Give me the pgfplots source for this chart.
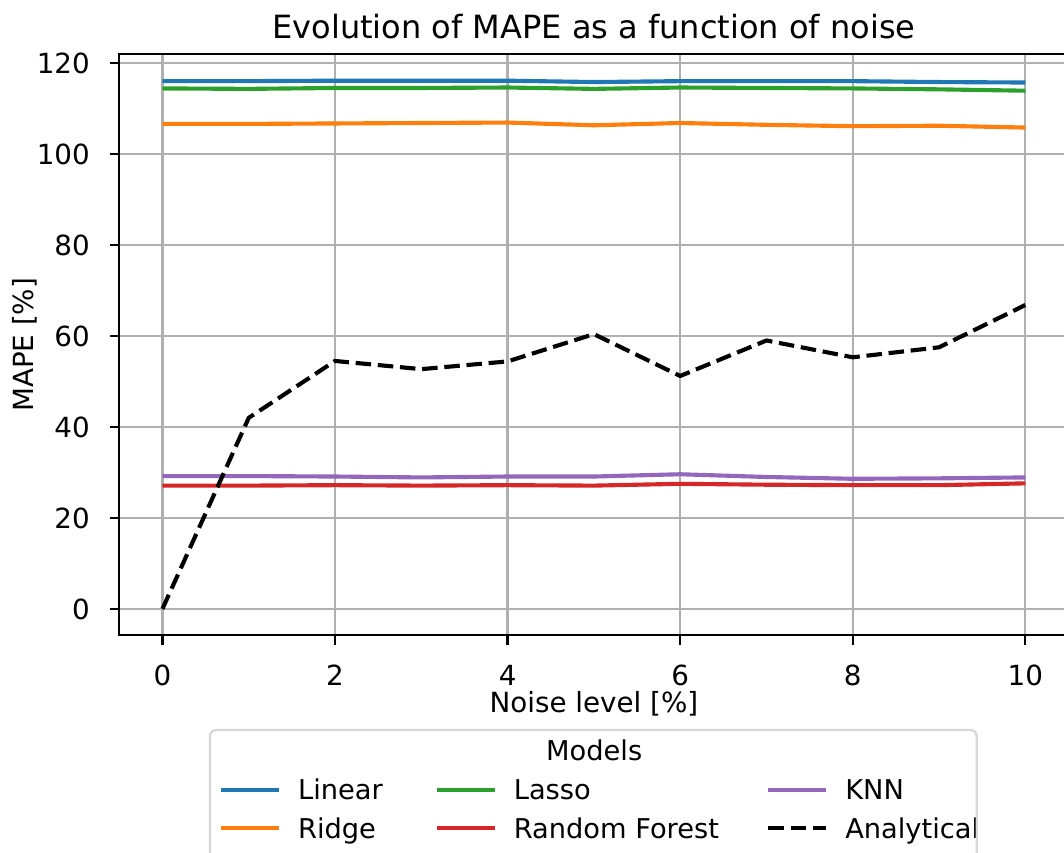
\documentclass[border=0pt]{standalone}
\usepackage{fontspec}
\setmainfont{DejaVu Sans}
\usepackage{pgfplots}
\pgfplotsset{compat=1.18}
\definecolor{tabblue}{HTML}{1F77B4}
\definecolor{taborange}{HTML}{FF7F0E}
\definecolor{tabgreen}{HTML}{2CA02C}
\definecolor{tabred}{HTML}{D62728}
\definecolor{tabpurple}{HTML}{9467BD}
\definecolor{gridgray}{HTML}{B0B0B0}
\definecolor{framegray}{HTML}{D6D6D6}
\begin{document}
\begin{tikzpicture}
\begin{axis}[
  name=ax, at={(0,0)}, anchor=south west,
  scale only axis, width=379.68pt, height=232.4pt,
  xmin=-0.5, xmax=10.5, ymin=-5.8, ymax=121.9,
  xtick={0,2,4,6,8,10}, ytick={0,20,40,60,80,100,120},
  grid=major, major grid style={color=gridgray, line width=0.9pt},
  axis line style={black, line width=0.9pt},
  tick align=outside, major tick length=3.8pt,
  tick style={black, line width=0.9pt},
  xtick pos=left, ytick pos=left,
  /pgf/number format/assume math mode=true,
  ticklabel style={font=\fontsize{11.1}{13}\selectfont},
  xticklabel style={anchor=base, inner sep=0pt, yshift=-16.1pt},
  yticklabel style={anchor=east, inner sep=0pt, xshift=-7.8pt},
  xlabel={Noise level [\%]},
  xlabel style={at={(axis description cs:0.5,-0.1324)}, anchor=base, inner sep=0pt, font=\fontsize{11.1}{13}\selectfont},
  ylabel={MAPE [\%]},
  ylabel style={at={(axis description cs:-0.0908,0.5)}, anchor=base, inner sep=0pt, font=\fontsize{11.1}{13}\selectfont},
  legend columns=3, legend cell align=left,
  legend image code/.code={\draw[#1] (0pt,0pt) -- (23.08pt,0pt);},
  legend style={draw=none, fill=none, inner sep=0pt, outer sep=0pt,
     at={(axis description cs:0.10504,-0.24897)}, anchor=north west,
     font=\fontsize{10.9}{13}\selectfont,
     nodes={inner sep=0pt, text height=7.95pt, text depth=0pt},
     row sep=7.37pt,
     /tikz/column 1/.style={column sep=6.9pt},
     /tikz/column 2/.style={column sep=20.8pt},
     /tikz/column 3/.style={column sep=6.9pt},
     /tikz/column 4/.style={column sep=18.9pt},
     /tikz/column 5/.style={column sep=6.9pt}},
  every axis plot/.append style={line width=1.65pt, line join=round},
]
\addplot[tabblue] coordinates {(0,116.0) (1,116.0) (2,116.1) (3,116.1) (4,116.1) (5,115.8) (6,116.0) (7,116.0) (8,116.0) (9,115.8) (10,115.7)};
\addlegendentry{Linear}
\addplot[tabgreen] coordinates {(0,114.4) (1,114.3) (2,114.5) (3,114.5) (4,114.6) (5,114.3) (6,114.6) (7,114.5) (8,114.4) (9,114.2) (10,113.9)};
\addlegendentry{Lasso}
\addplot[tabpurple] coordinates {(0,29.2) (1,29.2) (2,29.1) (3,28.9) (4,29.1) (5,29.1) (6,29.6) (7,29.0) (8,28.6) (9,28.7) (10,28.9)};
\addlegendentry{KNN}
\addplot[taborange] coordinates {(0,106.6) (1,106.6) (2,106.7) (3,106.8) (4,106.9) (5,106.3) (6,106.8) (7,106.4) (8,106.1) (9,106.2) (10,105.8)};
\addlegendentry{Ridge}
\addplot[tabred] coordinates {(0,27.1) (1,27.1) (2,27.2) (3,27.1) (4,27.2) (5,27.1) (6,27.5) (7,27.3) (8,27.2) (9,27.2) (10,27.6)};
\addlegendentry{Random Forest}
\addplot[black, dash pattern=on 6.2pt off 2.7pt] coordinates {(0,0) (1,42.0) (2,54.5) (3,52.7) (4,54.4) (5,60.4) (6,51.2) (7,59.0) (8,55.3) (9,57.5) (10,66.8)};
\addlegendentry{Analytical}
\end{axis}
\node[anchor=base, inner sep=0pt, font=\fontsize{12.8}{15}\selectfont] at (189.84pt,238.8pt) {Evolution of MAPE as a function of noise};
\draw[framegray, line width=0.9pt, rounded corners=2.5pt] (36.28pt,-100pt) rectangle (342.96pt,-37.88pt);
\node[anchor=base, inner sep=0pt, font=\fontsize{10.9}{13}\selectfont] at (189.96pt,-49.88pt) {Models};
\pgfresetboundingbox
\path[use as bounding box] (-47.72pt,-86.68pt) rectangle (377.88pt,254.12pt);
\end{tikzpicture}
\end{document}
